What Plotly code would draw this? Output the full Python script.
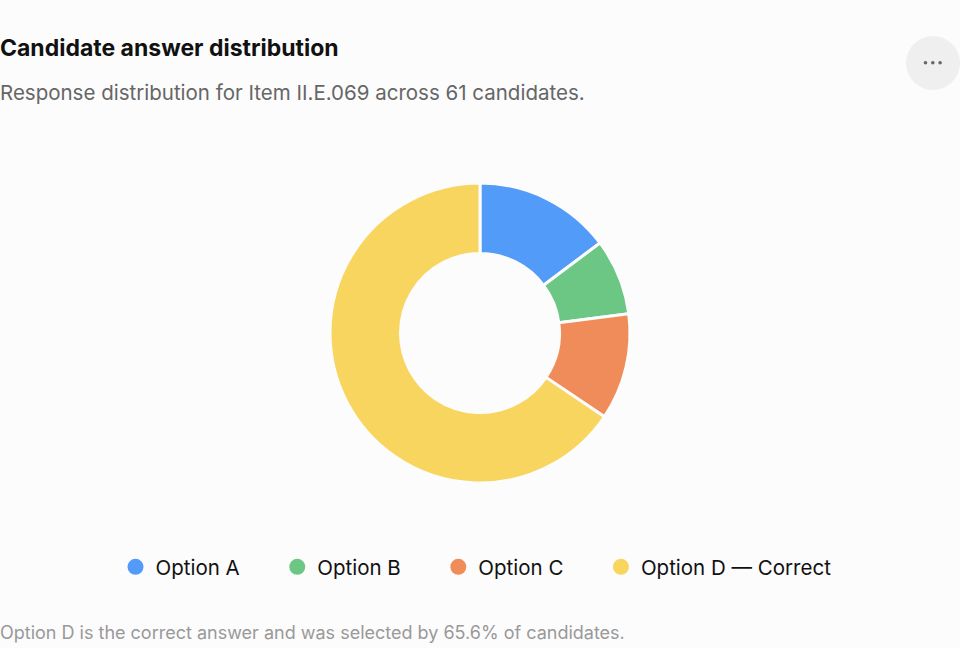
import plotly.graph_objects as go

options = ["Option A", "Option B", "Option C", "Option D — Correct"]
counts = [9, 5, 7, 40]
colors = ["#529bf8", "#6cc785", "#f08c5a", "#f8d55e"]

title = "Candidate answer distribution"
subtitle = "Response distribution for Item II.E.069 across 61 candidates."
footnote = "Option D is the correct answer and was selected by 65.6% of candidates."

W, H = 960, 648
bg = "#fcfcfc"
PAD = "\u00a0" * 5 + "\u2009"  # extra spacing between legend entries

fig = go.Figure()
fig.add_trace(go.Pie(
    labels=options, values=counts, sort=False, direction="clockwise", rotation=0,
    hole=0.53, marker=dict(colors=colors, line=dict(color=bg, width=3)),
    textinfo="none", showlegend=False,
    domain=dict(x=[330 / W, 630 / W], y=[1 - 483 / H, 1 - 183 / H]),
))
for i, (name, c) in enumerate(zip(options, colors)):
    label = name + (PAD if i < len(options) - 1 else "")
    fig.add_trace(go.Scatter(x=[None], y=[None], mode="markers", name=label,
                             marker=dict(color=c, size=16, symbol="circle")))

shapes = [dict(type="circle", xref="paper", yref="paper", x0=906 / W, x1=960 / W,
               y0=1 - 90 / H, y1=1 - 36 / H, fillcolor="#efefef", line=dict(width=0), layer="below")]
for dx in (925.5, 932.8, 940.1):
    shapes.append(dict(type="circle", xref="paper", yref="paper", x0=(dx - 1.8) / W, x1=(dx + 1.8) / W,
                       y0=1 - 64.6 / H, y1=1 - 61 / H, fillcolor="#666", line=dict(width=0)))

fig.update_layout(
    width=W, height=H, paper_bgcolor=bg, plot_bgcolor=bg,
    margin=dict(l=0, r=0, t=0, b=0),
    font=dict(family="Inter, Noto Sans, sans-serif", color="#111"),
    xaxis=dict(visible=False), yaxis=dict(visible=False),
    legend=dict(orientation="h", x=476 / W, xanchor="center", y=1 - 567 / H, yanchor="middle",
                font=dict(size=20.5, color="#111"), bgcolor="rgba(0,0,0,0)",
                itemsizing="trace"),
    annotations=[
        dict(text="<b>" + title + "</b>", x=0, y=1 - 48 / H, xref="paper", yref="paper", xshift=-2,
             xanchor="left", yanchor="middle", showarrow=False, font=dict(size=23, color="#111")),
        dict(text=subtitle, x=0, y=1 - 93 / H, xref="paper", yref="paper", xshift=-2,
             xanchor="left", yanchor="middle", showarrow=False, font=dict(size=20.5, color="#666")),
        dict(text=footnote, x=0, y=1 - 632 / H, xref="paper", yref="paper", xshift=-2,
             xanchor="left", yanchor="middle", showarrow=False, font=dict(size=18, color="#999")),
    ],
    shapes=shapes,
)
fig.write_html("out.html", config={"displayModeBar": False},
               post_script="document.body.style.margin='0';")
